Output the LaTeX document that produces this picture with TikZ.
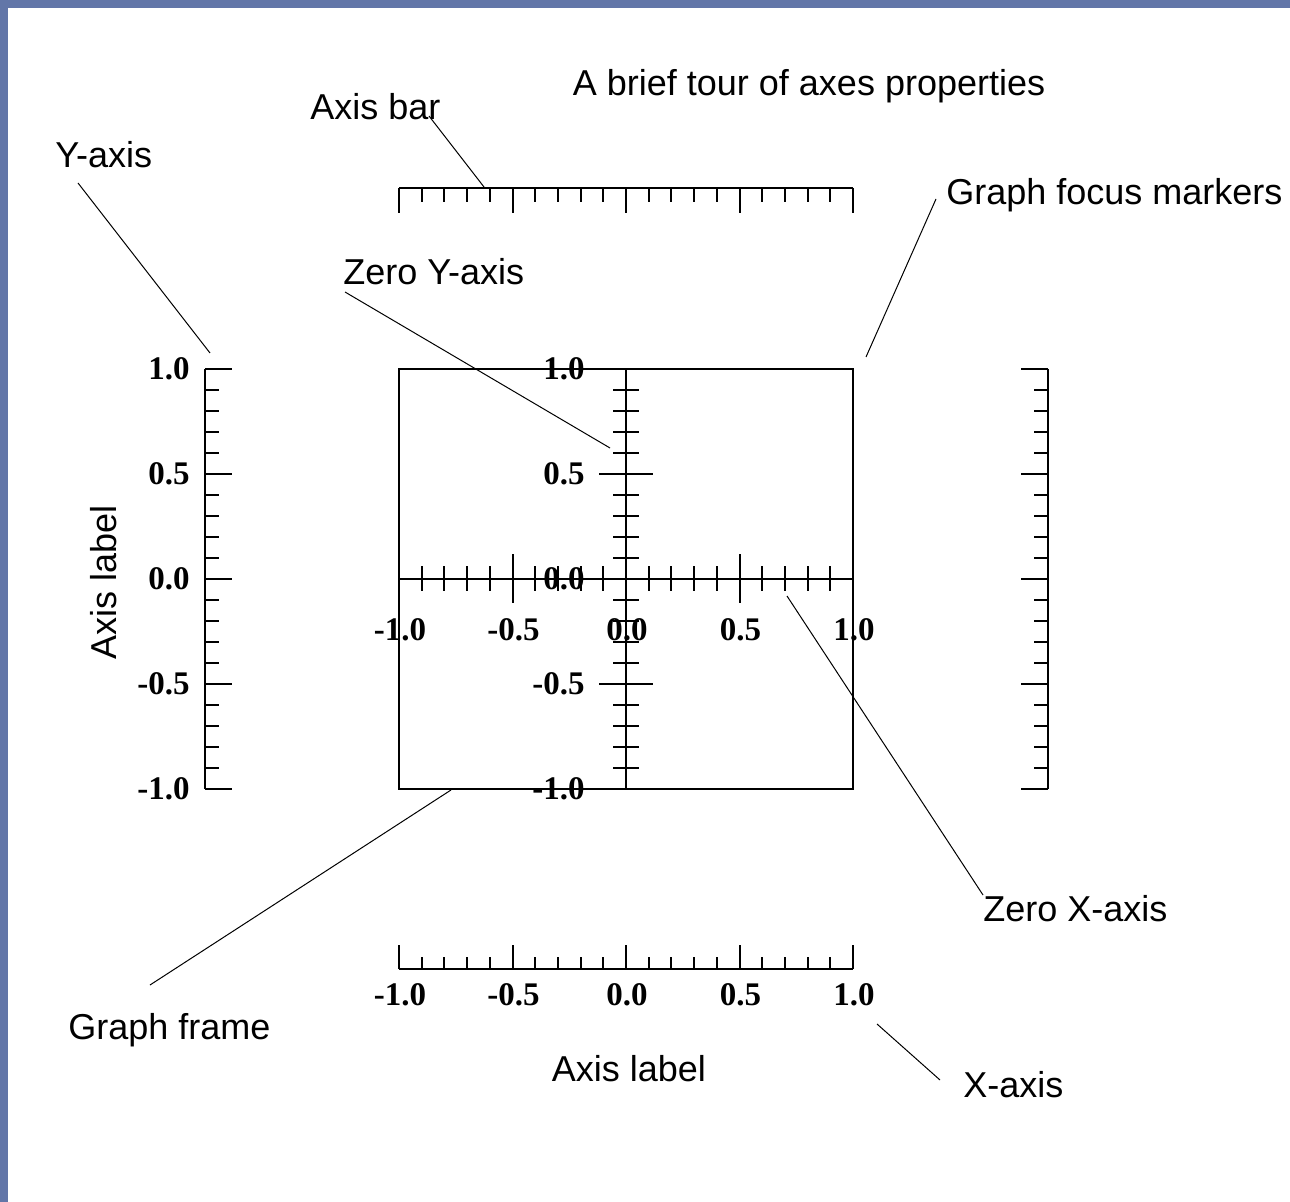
\documentclass[tikz,border=0pt]{standalone}
\usepackage{fontspec}
\setmainfont{Liberation Sans}
\newfontfamily\ticksfont{Liberation Serif}
\usepackage{tikz}
\usetikzlibrary{calc,positioning}
\definecolor{slideblue}{RGB}{98,118,168}

\begin{document}
\begin{tikzpicture}[x=0.5pt,y=-0.5pt,
  txt/.style={font=\fontsize{18}{20}\selectfont, inner sep=0pt},
  num/.style={font=\ticksfont\bfseries\fontsize{16.5}{18}\selectfont, inner sep=0pt},
  axisline/.style={line width=1pt},
  leader/.style={line width=0.5pt}]
\pgfmathsetmacro{\xl}{399}
\pgfmathsetmacro{\xr}{853}
\pgfmathsetmacro{\yt}{369}
\pgfmathsetmacro{\yb}{789}
\pgfmathsetmacro{\xo}{626}
\pgfmathsetmacro{\yo}{579}

% slide background
\fill[slideblue] (0,0) rectangle (1290,1202);
\fill[white] (8,8) rectangle (1290,1202);

% graph frame and zero axes
\draw[axisline] (\xl,\yt) rectangle (\xr,\yb);
\draw[axisline] (\xl,\yo) -- (\xr,\yo);
\draw[axisline] (\xo,\yt) -- (\xo,\yb);

% axis bars
\draw[axisline] (\xl,188) -- (\xr,188);
\draw[axisline] (\xl,969) -- (\xr,969);
\draw[axisline] (205,\yt) -- (205,\yb);
\draw[axisline] (1048,\yt) -- (1048,\yb);

\foreach \i in {0,...,20}{
	\pgfmathsetmacro{\tx}{\xl+22.7*\i}
	\pgfmathsetmacro{\ty}{\yb-21*\i}
	\pgfmathsetmacro{\f}{ifthenelse(mod(\i,5)==0,1,0)}
	\draw[axisline] (\tx,188) -- (\tx,188+14+11*\f);
	\draw[axisline] (\tx,969) -- (\tx,969-12-12*\f);
	\draw[axisline] (205,\ty) -- (205+14+13*\f,\ty);
	\draw[axisline] (1048,\ty) -- (1048-14-13*\f,\ty);
	\draw[axisline] (\tx,\yo-12.5-12*\f) -- (\tx,\yo+12.5+12*\f);
	\draw[axisline] (\xo-13-14*\f,\ty) -- (\xo+13+14*\f,\ty);
}

% tick labels
\foreach \v/\lab in {0/-1.0,5/-0.5,10/0.0,15/0.5,20/1.0}{
	\node[num, anchor=east] (lefty\v) at (190,\yb-21*\v) {\lab};
	\node[num, anchor=east] (zeroy\v) at (585,\yb-21*\v) {\lab};
	\node[num] (zerox\v) at (\xl+1+22.7*\v,630) {\lab};
	\node[num] (botx\v) at (\xl+1+22.7*\v,995) {\lab};
}

% texts
\node[txt, anchor=base] (title) at (809,96) {A brief tour of axes properties};
\node[txt, anchor=base west] (barlbl) at (310,120) {Axis bar};
\node[txt, anchor=base west] (ylbl) at (55,168) {Y-axis};
\node[txt, anchor=base west] (zylbl) at (343,285) {Zero Y-axis};
\node[txt, anchor=base west] (focuslbl) at (946,205) {Graph focus markers};
\node[txt, anchor=base west] (zxlbl) at (983,921) {Zero X-axis};
\node[txt, anchor=base west] (framelbl) at (68,1039) {Graph frame};
\node[txt, anchor=base] (xtitle) at (629,1081) {Axis label};
\node[txt, anchor=base west] (xlbl) at (963,1097) {X-axis};
\node[txt, anchor=base, rotate=90] (ytitle) at (116,582) {Axis label};

% leader lines
\coordinate (barfoot) at (429,116);
\coordinate (bartip) at (484,187);
\coordinate (yfoot) at (78,183);
\coordinate (ytip) at (210,353);
\coordinate (zyfoot) at (345,292);
\coordinate (zytip) at (610,448);
\coordinate (focusfoot) at (936,199);
\coordinate (focustip) at (866,357);
\coordinate (zxfoot) at (983,895);
\coordinate (zxtip) at (787,596);
\coordinate (framefoot) at (150,985);
\coordinate (frametip) at (451,790);
\coordinate (xfoot) at (940,1080);
\coordinate (xtip) at (877,1024);

\draw[leader] (barfoot) -- (bartip);
\draw[leader] (yfoot) -- (ytip);
\draw[leader] (zyfoot) -- (zytip);
\draw[leader] (focusfoot) -- (focustip);
\draw[leader] (zxfoot) -- (zxtip);
\draw[leader] (framefoot) -- (frametip);
\draw[leader] (xfoot) -- (xtip);
\end{tikzpicture}
\end{document}
